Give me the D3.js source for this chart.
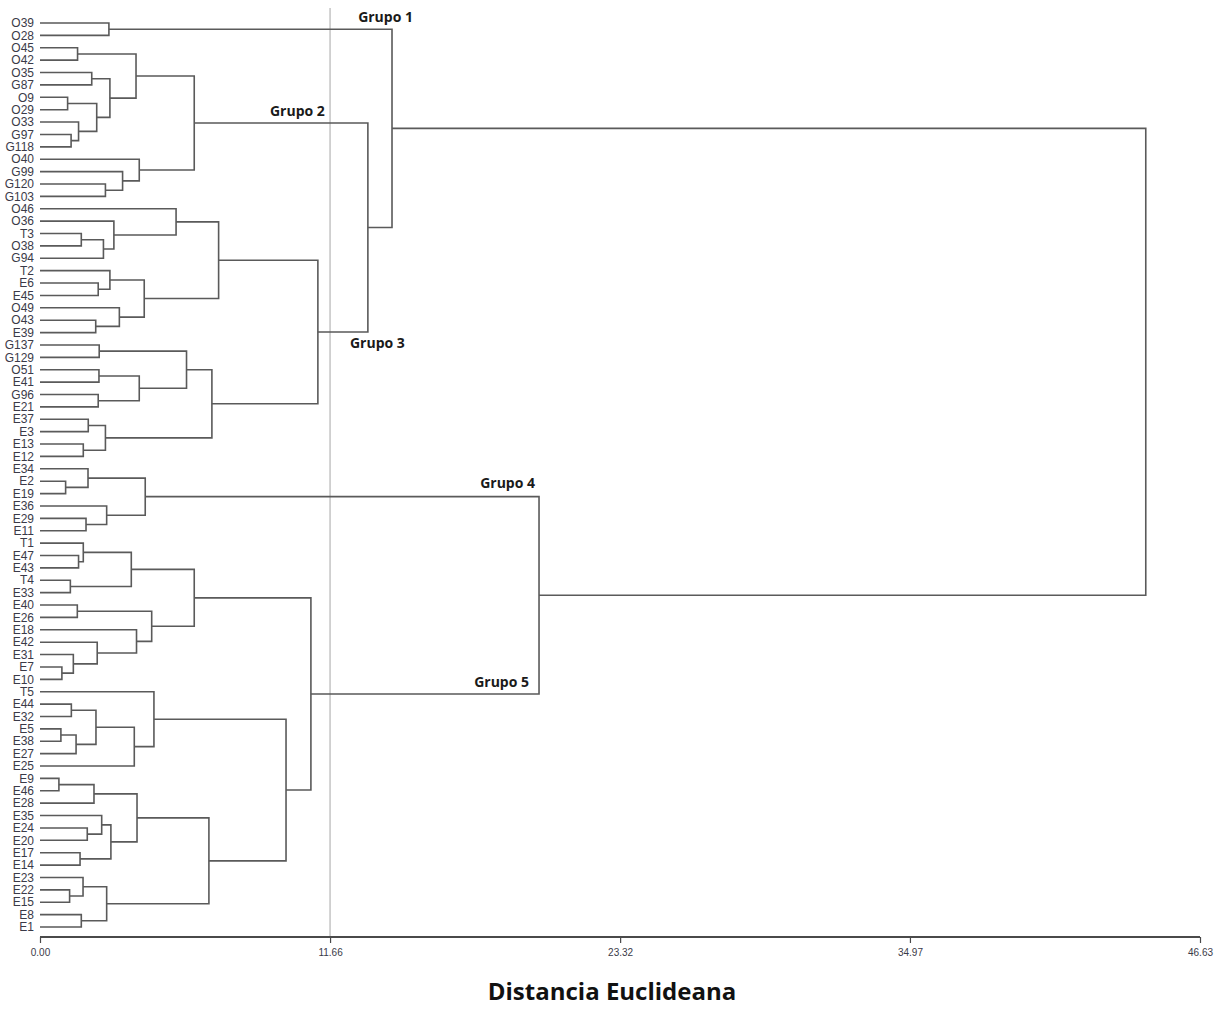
<!DOCTYPE html>
<html>
<head>
<meta charset="utf-8">
<script src="https://cdn.jsdelivr.net/npm/d3@7"></script>
<style>
  html, body { margin: 0; padding: 0; background: #fff; }
  svg { display: block; }
</style>
</head>
<body>
<svg id="chart" width="1224" height="1010"></svg>
<script>
// Leaf order (top to bottom)
const leaves = ["O39","O28","O45","O42","O35","G87","O9","O29","O33","G97","G118","O40","G99","G120","G103",
  "O46","O36","T3","O38","G94","T2","E6","E45","O49","O43","E39","G137","G129","O51","E41","G96","E21",
  "E37","E3","E13","E12","E34","E2","E19","E36","E29","E11","T1","E47","E43","T4","E33","E40","E26",
  "E18","E42","E31","E7","E10","T5","E44","E32","E5","E38","E27","E25","E9","E46","E28","E35","E24",
  "E20","E17","E14","E23","E22","E15","E8","E1"];

// Merges: [childA, childB, distance]; "#k" refers to merge k
const merges = [
  ["O45","O42",1.51],   // 0
  ["O35","G87",2.08],   // 1
  ["O9","O29",1.11],    // 2
  ["G97","G118",1.25],  // 3
  ["O33","#3",1.55],    // 4
  ["#2","#4",2.28],     // 5
  ["#1","#5",2.81],     // 6
  ["#0","#6",3.86],     // 7
  ["G120","G103",2.63], // 8
  ["G99","#8",3.32],    // 9
  ["O40","#9",3.99],    // 10
  ["#7","#10",6.20],    // 11 Grupo 2
  ["O39","O28",2.77],   // 12 Grupo 1
  ["T3","O38",1.66],    // 13
  ["#13","G94",2.55],   // 14
  ["O36","#14",2.97],   // 15
  ["O46","#15",5.47],   // 16
  ["E6","E45",2.34],    // 17
  ["T2","#17",2.81],    // 18
  ["O43","E39",2.24],   // 19
  ["O49","#19",3.19],   // 20
  ["#18","#20",4.19],   // 21
  ["#16","#21",7.18],   // 22
  ["G137","G129",2.38], // 23
  ["O51","E41",2.37],   // 24
  ["G96","E21",2.34],   // 25
  ["#24","#25",3.99],   // 26
  ["#23","#26",5.89],   // 27
  ["E37","E3",1.94],    // 28
  ["E13","E12",1.74],   // 29
  ["#28","#29",2.63],   // 30
  ["#27","#30",6.91],   // 31
  ["#22","#31",11.17],  // 32 Grupo 3
  ["#11","#32",13.18],  // 33
  ["#12","#33",14.15],  // 34
  ["E2","E19",1.03],    // 35
  ["E34","#35",1.93],   // 36
  ["E29","E11",1.85],   // 37
  ["E36","#37",2.68],   // 38
  ["#36","#38",4.23],   // 39 Grupo 4
  ["E47","E43",1.55],   // 40
  ["T1","#40",1.74],    // 41
  ["T4","E33",1.22],    // 42
  ["#41","#42",3.67],   // 43
  ["E40","E26",1.50],   // 44
  ["E7","E10",0.88],    // 45
  ["E31","#45",1.34],   // 46
  ["E42","#46",2.30],   // 47
  ["E18","#47",3.88],   // 48
  ["#44","#48",4.49],   // 49
  ["#43","#49",6.20],   // 50
  ["E44","E32",1.26],   // 51
  ["E5","E38",0.84],    // 52
  ["#52","E27",1.45],   // 53
  ["#51","#53",2.25],   // 54
  ["#54","E25",3.79],   // 55
  ["T5","#55",4.58],    // 56
  ["E9","E46",0.76],    // 57
  ["#57","E28",2.17],   // 58
  ["E24","E20",1.90],   // 59
  ["E35","#59",2.48],   // 60
  ["E17","E14",1.61],   // 61
  ["#60","#61",2.85],   // 62
  ["#58","#62",3.90],   // 63
  ["E22","E15",1.19],   // 64
  ["E23","#64",1.73],   // 65
  ["E8","E1",1.66],     // 66
  ["#65","#66",2.68],   // 67
  ["#63","#67",6.79],   // 68
  ["#56","#68",9.89],   // 69
  ["#50","#69",10.89],  // 70 Grupo 5
  ["#39","#70",20.06],  // 71
  ["#34","#71",44.45]   // 72
];

const tickValues = [0, 11.66, 23.32, 34.97, 46.63];
const tickLabels = ["0.00","11.66","23.32","34.97","46.63"];
const axisMax = 46.63;
const cutDistance = 11.66;
const groupNames = ["Grupo 1","Grupo 2","Grupo 3","Grupo 4","Grupo 5"];
const groupNodes = [12, 11, 32, 39, 70];
const axisTitle = "Distancia Euclideana";

const svg = d3.select("#chart");
const x = d3.scaleLinear().domain([0, axisMax]).range([40, 1200]);
const y = d3.scaleLinear().domain([0, leaves.length - 1]).range([23, 927]);

// compute node positions
const leafIdx = new Map(leaves.map((d, i) => [d, i]));
const nodePos = [];
function pos(ref) {
  if (ref.startsWith("#")) return nodePos[+ref.slice(1)];
  return { pos: leafIdx.get(ref), h: 0 };
}
merges.forEach((m, i) => {
  const a = pos(m[0]), b = pos(m[1]);
  nodePos[i] = { pos: (a.pos + b.pos) / 2, h: m[2], a, b };
});

const lineColor = "#5a5a5a";

// cut line
svg.append("line")
  .attr("x1", x(cutDistance)).attr("x2", x(cutDistance))
  .attr("y1", 8).attr("y2", 937)
  .attr("stroke", "#c4c4c4").attr("stroke-width", 1.5);

// dendrogram links
const g = svg.append("g");
nodePos.forEach(n => {
  const xa = x(n.a.h), ya = y(n.a.pos), xb = x(n.b.h), yb = y(n.b.pos), xm = x(n.h);
  g.append("path")
    .attr("d", `M${xa},${ya}H${xm}V${yb}H${xb}`)
    .attr("fill", "none")
    .attr("stroke", lineColor)
    .attr("stroke-width", 1.6);
});

// leaf labels
svg.append("g").selectAll("text").data(leaves).join("text")
  .attr("x", 34)
  .attr("y", (d, i) => y(i))
  .attr("dy", "0.35em")
  .attr("text-anchor", "end")
  .style("font-family", "'Liberation Sans Narrow', 'Arial Narrow', 'Liberation Sans', sans-serif")
  .style("font-stretch", "condensed")
  .style("font-size", "12px")
  .attr("fill", "#3a3a48")
  .text(d => d);

// group labels
const groupOffsets = [[21, -7], [-43, -7], [37, 16], [-4, -9], [-10, -7]];
svg.append("g").selectAll("text").data(groupNames).join("text")
  .attr("x", (d, i) => {
    const n = nodePos[groupNodes[i]];
    const parent = nodePos.find(p => p.a === n || p.b === n);
    return x(parent.h) + groupOffsets[i][0];
  })
  .attr("y", (d, i) => y(nodePos[groupNodes[i]].pos) + groupOffsets[i][1])
  .attr("text-anchor", "end")
  .style("font-family", "'Open Sans', 'Noto Sans', sans-serif")
  .style("font-weight", "700")
  .style("font-size", "14px")
  .attr("fill", "#1a1a1a")
  .text(d => d);

// axis
const axis = d3.axisBottom(x).tickValues(tickValues).tickFormat((d, i) => tickLabels[i]).tickSize(6).tickPadding(6);
const ax = svg.append("g").attr("transform", "translate(0,937)").call(axis);
ax.select(".domain").attr("stroke", "#4a4a4a").attr("stroke-width", 2).attr("d", "M40,0H1200");
ax.selectAll(".tick line").attr("stroke", "#4a4a4a").attr("stroke-width", 1.2);
ax.selectAll(".tick text")
  .style("font-family", "'Liberation Sans Narrow', 'Arial Narrow', 'Liberation Sans', sans-serif")
  .style("font-stretch", "condensed")
  .style("font-size", "10px")
  .attr("fill", "#3a3a48");

// title
svg.append("text")
  .attr("x", 612).attr("y", 1000)
  .attr("text-anchor", "middle")
  .style("font-family", "'Open Sans', 'Noto Sans', sans-serif")
  .style("font-weight", "700")
  .style("font-size", "24px")
  .attr("fill", "#111")
  .text(axisTitle);
</script>
</body>
</html>
